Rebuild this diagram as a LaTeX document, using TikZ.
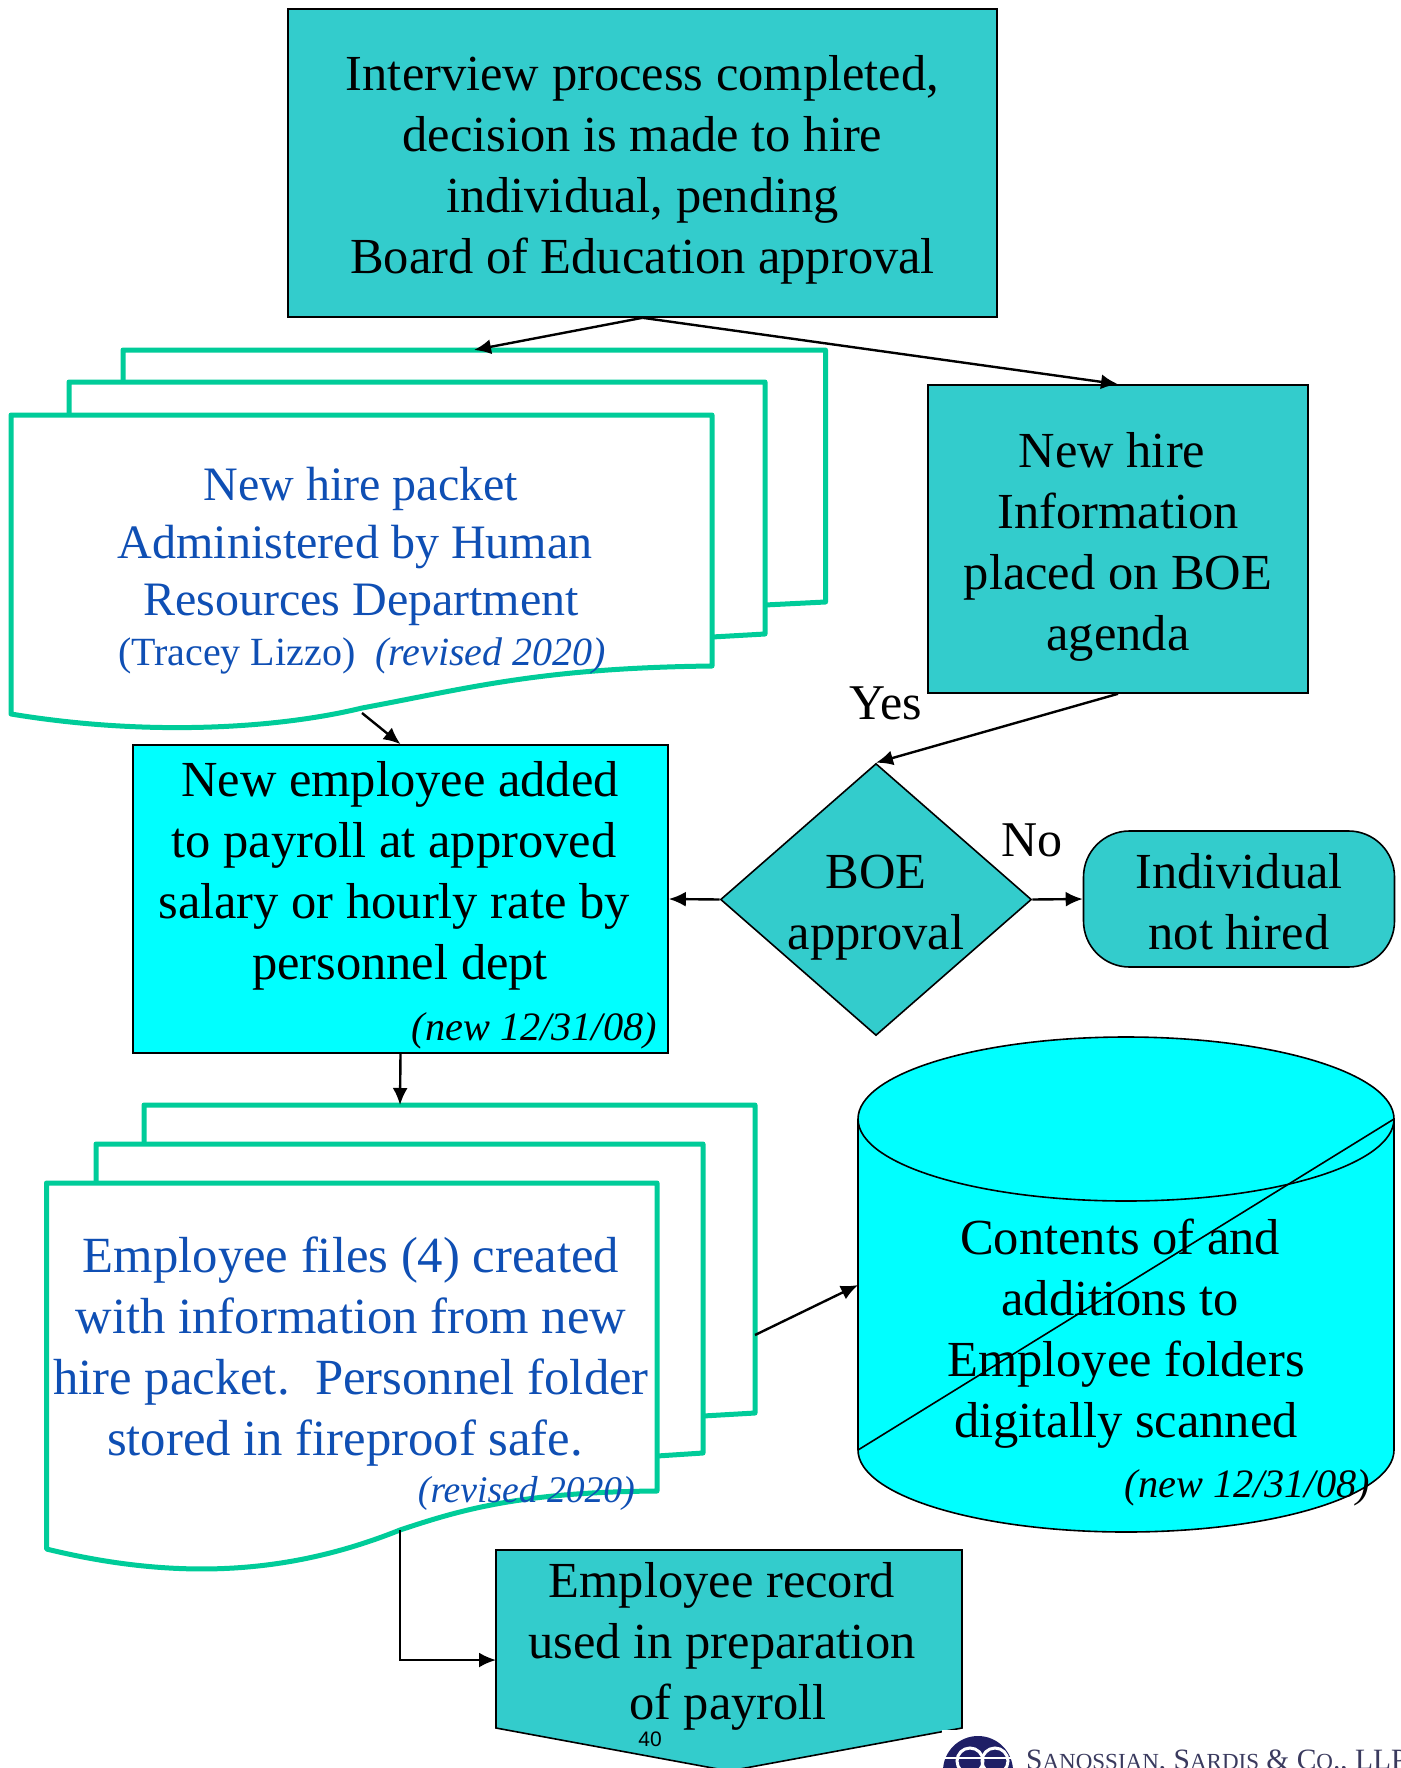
\documentclass[tikz,border=0pt]{standalone}
\usepackage{fontspec}
\setmainfont{Liberation Serif}
\setsansfont{Liberation Sans}
\usetikzlibrary{arrows.meta,shapes.geometric}
\definecolor{teal}{HTML}{33CCCC}
\definecolor{aqua}{HTML}{00FFFF}
\definecolor{docgreen}{HTML}{00CC99}
\definecolor{docblue}{HTML}{0F4FB4}
\definecolor{navy}{HTML}{1F1F66}
\definecolor{firmgrey}{HTML}{3A3A5E}
\newcommand{\fs}[2]{\fontsize{#1}{#2}\selectfont}
\newcommand{\tr}{\rule{12pt}{0pt}}
\tikzset{
  x=1pt,y=-1pt,
  flow/.style={draw=black,line width=1.6pt},
  box/.style={flow,rectangle,inner sep=0pt},
  doc/.style={draw=docgreen,line width=5pt,line join=round},
  conn/.style={black,line width=2.4pt,-{Latex[length=17pt,width=15pt]}},
  big/.style={align=center,font=\fs{50.5}{61},inner sep=0pt},
  bluetext/.style={align=center,text=docblue,inner sep=0pt},
  note/.style={inner sep=0pt,font=\fs{40.3}{45}\itshape},
}
\begin{document}
\begin{tikzpicture}
\useasboundingbox (0,0) rectangle (1400,1768);
\clip (0,0) rectangle (1400,1768);
\fill[white] (0,0) rectangle (1400,1768);

% first document stack
\draw[doc] (123,382) -- (123,350) -- (825.5,350) -- (825.5,602) -- (765,605);
\fill[white] (69,382) rectangle (765,634);
\draw[doc] (69,415) -- (69,382) -- (765,382) -- (765,634) -- (712,637);
\draw[doc,fill=white] (11,415) -- (712,415) -- (712,666) .. controls (540,668) and (470,688) .. (362,708) .. controls (280,728) and (150,737) .. (11,714) -- cycle;
\coordinate (packetIn) at (474,350);
\coordinate (packetOut) at (362,713);

% second document stack
\draw[doc] (144,1144) -- (144,1105) -- (755,1105) -- (755,1413) -- (703,1416);
\fill[white] (96,1144) rectangle (703,1453);
\draw[doc] (96,1183) -- (96,1144) -- (703,1144) -- (703,1453) -- (657,1456);
\draw[doc,fill=white] (46.5,1183) -- (657,1183) -- (657,1491) .. controls (520,1492) and (460,1510) .. (400,1530) .. controls (300,1570) and (190,1584) .. (46.5,1549) -- cycle;
\coordinate (filesIn) at (400,1105);
\coordinate (filesRight) at (755,1335);
\coordinate (filesBottom) at (400,1530);

\node[box,fill=teal,minimum width=709pt,minimum height=308pt] (hire) at (642.5,163) {};
\node[big] (hireT) at (642.5,170) {Interview process completed,\\decision is made to hire\\individual, pending\\Board of Education approval};
\node[box,fill=teal,minimum width=380pt,minimum height=308pt] (agenda) at (1118,539) {};
\node[big] (agendaT) at (1118,547) {New hire\tr\\Information\\placed on BOE\\agenda};
\node[box,fill=aqua,minimum width=535pt,minimum height=308pt] (payroll) at (400.5,899) {};
\node[big,anchor=north] (payrollT) at (400,761) {New employee added\\to payroll at approved\tr\\salary or hourly rate by\tr\\personnel dept};
\node[note,anchor=east] (payrollN) at (657,1031) {(new 12/31/08)};

\node[flow,diamond,fill=teal,inner sep=0pt,minimum width=311pt,minimum height=272pt,shape aspect=1.143] (boe) at (876,899.5) {};
\node[big] (boeT) at (876,907.5) {BOE\\approval};
\node[flow,rectangle,rounded corners=46pt,fill=teal,minimum width=311pt,minimum height=136pt,inner sep=0pt] (nothired) at (1239,899) {};
\node[big] (nothiredT) at (1239,901.5) {Individual\\not hired};
\node[big,font=\fs{50}{61}] (yes) at (886,703) {Yes};
\node[big,font=\fs{50}{61}] (no) at (1032,840) {No};

% cylinder
\draw[flow,fill=aqua] (858,1119) -- (858,1450) arc[start angle=180,end angle=360,x radius=268pt,y radius=82pt] -- (1394,1119) arc[start angle=0,end angle=180,x radius=268pt,y radius=82pt] -- cycle;
\draw[flow] (858,1119) arc[start angle=180,end angle=360,x radius=268pt,y radius=82pt];
\coordinate (scanIn) at (858,1285);
\coordinate (strikeA) at (858,1450);
\coordinate (strikeB) at (1394,1119);
\draw[flow] (strikeA) -- (strikeB);
\node[big] (scanT) at (1126,1333.5) {Contents of and\tr\\additions to\tr\\Employee folders\\digitally scanned};
\node[note,anchor=east] (scanN) at (1370,1488) {(new 12/31/08)};

% payroll record
\draw[flow,fill=teal] (496,1550) -- (962,1550) -- (962,1728) -- (729,1771) -- (496,1728) -- cycle;
\coordinate (recordIn) at (496,1660);
\node[big] (recordT) at (728,1646) {Employee record\tr\\used in preparation\tr\\of payroll};
\node[inner sep=0pt,font=\sffamily\fs{21}{24}] (page) at (650,1739) {40};

% logo
\fill[white] (942,1729.5) rectangle (1400,1768);
\fill[navy] (978,1771) circle[radius=35pt];
\draw[white,line width=3pt] (970,1761) circle[radius=13pt];
\draw[white,line width=3pt] (995,1761) circle[radius=13pt];
\draw[white,line width=2pt] (942,1758) -- (1014,1758);
\node[inner sep=0pt,anchor=base west,text=firmgrey,font=\fs{29.5}{30}] (firm) at (1026,1769) {S\fs{23}{30}ANOSSIAN\fs{29.5}{30}, S\fs{23}{30}ARDIS\fs{29.5}{30} \& C\fs{23}{30}O\fs{29.5}{30}., LLP};

% blue texts
\node[bluetext,font=\fs{48}{57.5}] (packetT) at (361,546.5) {New hire packet\\Administered by Human\tr\\Resources Department};
\node[bluetext,font=\fs{40}{45},anchor=base] (packetN) at (362,665) {(Tracey Lizzo)\ \ \textit{(revised 2020)}};
\node[bluetext,font=\fs{50.7}{61}] (filesT) at (351,1352) {Employee files (4) created\\with information from new\\hire packet.\ \ Personnel folder\\stored in fireproof safe.\tr};
\node[bluetext,font=\fs{37.6}{45}\itshape,anchor=east] (filesN) at (635,1493) {(revised 2020)};

% connectors
\draw[conn] (hire.south) -- (packetIn);
\draw[conn] (hire.south) -- (agenda.north);
\draw[conn] (packetOut) -- (payroll.north);
\draw[conn] (agenda.south) -- (boe.north);
\draw[conn] (boe.west) -- (payroll.east);
\draw[conn] (boe.east) -- (nothired.west);
\draw[conn] (payroll.south) -- (filesIn);
\draw[conn] (filesRight) -- (scanIn);
\draw[conn] (filesBottom) |- (recordIn);
\end{tikzpicture}
\end{document}
